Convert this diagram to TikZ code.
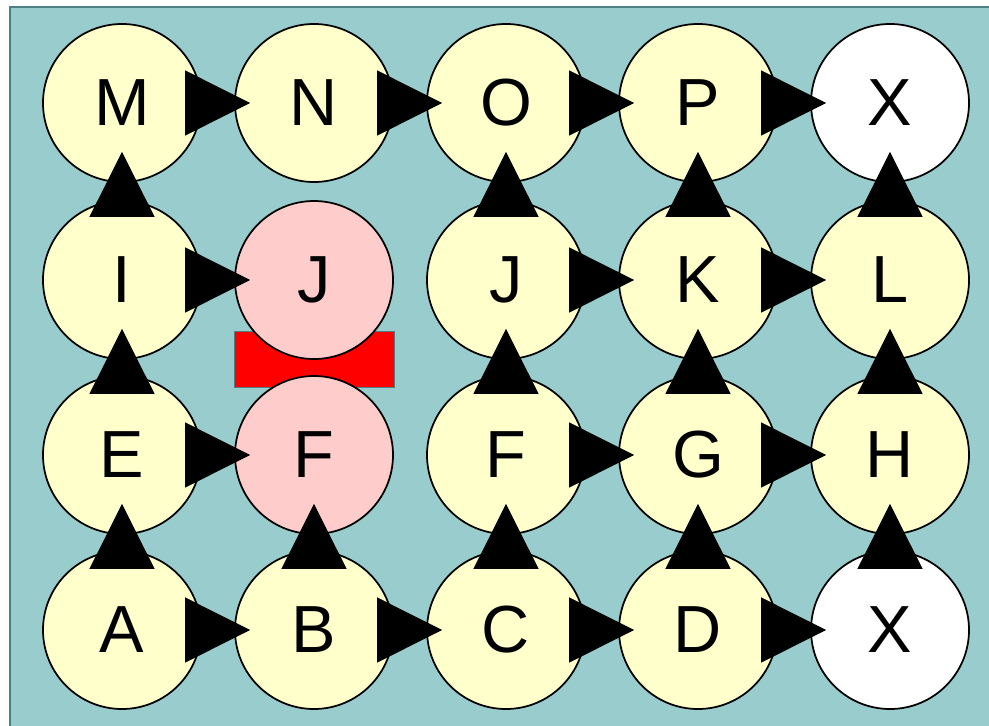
\documentclass[tikz,border=0pt]{standalone}
\usepackage{fontspec}
\setmainfont{Liberation Sans}
\definecolor{gridteal}{RGB}{153,204,204}
\definecolor{gridedge}{RGB}{77,128,128}
\definecolor{cellyellow}{RGB}{255,255,204}
\definecolor{cellpink}{RGB}{255,204,204}
\usepackage{tikz}
\usetikzlibrary{arrows.meta}

\begin{document}
\begin{tikzpicture}[
  x=0.75pt, y=-0.75pt,
  cell/.style={circle, draw=black, line width=1.3pt, fill=cellyellow, minimum size=118.5pt, inner sep=0pt, font=\fontsize{50}{60}\selectfont},
  blocked/.style={cell, fill=cellpink},
  exit/.style={cell, fill=white},
  hor/.style={-{Triangle[length=48.75pt, width=48.75pt]}, line width=0.5pt, shorten <=-11.25pt, shorten >=-12pt},
  ver/.style={-{Triangle[length=48.75pt, width=48.75pt]}, line width=0.5pt, shorten <=-12pt, shorten >=-23.25pt}
]
\useasboundingbox (0,0) rectangle (989,725);
\begin{scope}
\clip (0,0) rectangle (989,725);
\filldraw[fill=gridteal, draw=gridedge, line width=1.5pt] (10,7) rectangle (1000,740);
\end{scope}
\filldraw[fill=red, draw=gridedge, line width=0.6pt] (234,331) rectangle (394,387);

% bottom row
\node[cell] (a) at (122,630) {A};
\node[cell] (b) at (314,630) {B};
\node[cell] (c) at (506,630) {C};
\node[cell] (d) at (698,630) {D};
\node[exit] (x1) at (890,630) {X};
% second row
\node[cell] (e) at (122,455) {E};
\node[blocked] (f1) at (314,455) {F};
\node[cell] (f2) at (506,455) {F};
\node[cell] (g) at (698,455) {G};
\node[cell] (h) at (890,455) {H};
% third row
\node[cell] (i) at (122,280) {I};
\node[blocked] (j1) at (314,280) {J};
\node[cell] (j2) at (506,280) {J};
\node[cell] (k) at (698,280) {K};
\node[cell] (l) at (890,280) {L};
% top row
\node[cell] (m) at (122,103) {M};
\node[cell] (n) at (314,103) {N};
\node[cell] (o) at (506,103) {O};
\node[cell] (p) at (698,103) {P};
\node[exit] (x2) at (890,103) {X};

\draw[hor] (a) -- (b);
\draw[hor] (b) -- (c);
\draw[hor] (c) -- (d);
\draw[hor] (d) -- (x1);
\draw[hor] (e) -- (f1);
\draw[hor] (f2) -- (g);
\draw[hor] (g) -- (h);
\draw[hor] (i) -- (j1);
\draw[hor] (j2) -- (k);
\draw[hor] (k) -- (l);
\draw[hor] (m) -- (n);
\draw[hor] (n) -- (o);
\draw[hor] (o) -- (p);
\draw[hor] (p) -- (x2);

\draw[ver] (a) -- (e);
\draw[ver] (e) -- (i);
\draw[ver] (i) -- (m);
\draw[ver] (b) -- (f1);
\draw[ver] (c) -- (f2);
\draw[ver] (f2) -- (j2);
\draw[ver] (j2) -- (o);
\draw[ver] (d) -- (g);
\draw[ver] (g) -- (k);
\draw[ver] (k) -- (p);
\draw[ver] (x1) -- (h);
\draw[ver] (h) -- (l);
\draw[ver] (l) -- (x2);
\end{tikzpicture}
\end{document}
